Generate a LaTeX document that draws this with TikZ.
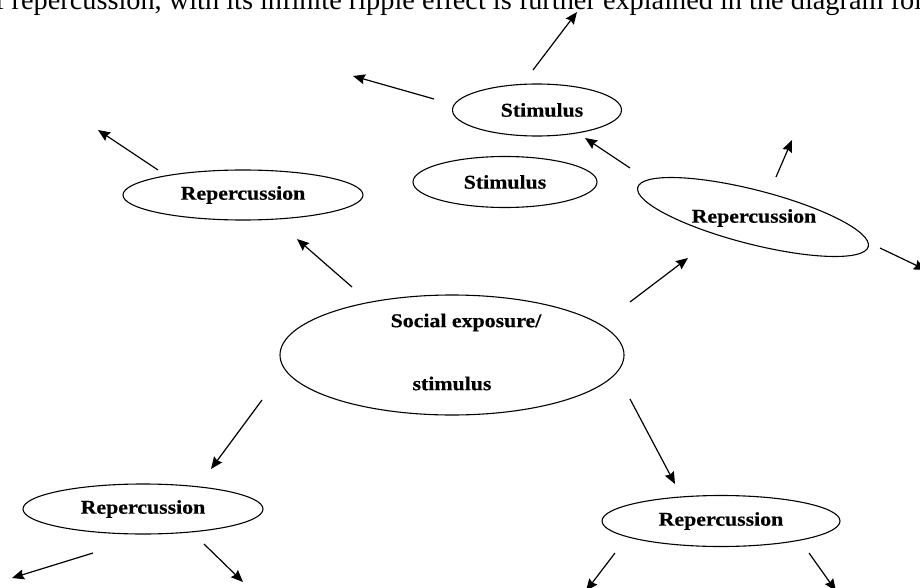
\documentclass[tikz,border=0pt]{standalone}
\usepackage{fontspec}
\setmainfont{Liberation Serif}
\newfontfamily\lblfont[FakeStretch=1.12,FakeBold=0.4]{Liberation Serif}
\usetikzlibrary{shapes.geometric,arrows.meta}
\begin{document}
\begin{tikzpicture}[x=1pt,y=-1pt,
  bubble/.style={draw, line width=1.1pt, ellipse, inner sep=0pt,
    font=\lblfont\bfseries\fontsize{19.5}{22}\selectfont},
  lbl/.style={inner sep=0pt, font=\lblfont\bfseries\fontsize{19.5}{22}\selectfont},
  arr/.style={line width=1.2pt, -{Stealth[length=12pt,width=10pt,inset=1.5pt]}}]
\useasboundingbox (0,0) rectangle (920,588);
\clip (0,0) rectangle (920,588);
\fill[white] (0,0) rectangle (920,588);
% top text line (cut)
\node[anchor=base west, inner sep=0pt, font=\fontsize{28.3}{30}\selectfont] (toptext) at (-5,9.5) {f repercussion, with its infinite ripple effect is further explained in the diagram fol};
% ellipses
\node[draw, line width=1.1pt, ellipse, inner sep=0pt, minimum width=344, minimum height=120] (soc) at (452,355) {};
\node[lbl, align=center, font=\lblfont\bfseries\fontsize{19.5}{63}\selectfont] (soct) at (452,352) {\hspace*{28pt}Social exposure/\\stimulus};
\node[bubble, minimum width=240, minimum height=50] (r1) at (243,195) {Repercussion};
\node[bubble, minimum width=169, minimum height=52] (s1) at (537,110) {\hspace*{10pt}Stimulus};
\node[bubble, minimum width=184, minimum height=51] (s2) at (505,182) {Stimulus};
\node[draw, line width=1.1pt, ellipse, rotate=-14.4, minimum width=238, minimum height=54, inner sep=0pt] (r2) at (753,217) {};
\node[lbl] (r2t) at (754,218) {Repercussion};
\node[bubble, minimum width=240, minimum height=50] (r3) at (143,509) {Repercussion};
\node[bubble, minimum width=238, minimum height=51] (r4) at (721,521) {Repercussion};
% arrow end points
\coordinate (a1) at (352,287); \coordinate (a2) at (297,239);
\coordinate (b1) at (158,170); \coordinate (b2) at (98,130);
\coordinate (c1) at (630,302); \coordinate (c2) at (688,258);
\coordinate (d1) at (630,168); \coordinate (d2) at (585,138);
\coordinate (e1) at (776,177); \coordinate (e2) at (792,140);
\coordinate (f1) at (880,248); \coordinate (f2) at (926,270);
\coordinate (g1) at (533,70);  \coordinate (g2) at (577,12);
\coordinate (h1) at (434,99);  \coordinate (h2) at (353,76);
\coordinate (i1) at (262,400); \coordinate (i2) at (211,469);
\coordinate (j1) at (630,399); \coordinate (j2) at (675,484);
\coordinate (k1) at (93,553);  \coordinate (k2) at (12,578);
\coordinate (l1) at (204,544); \coordinate (l2) at (243,582);
\coordinate (m1) at (615,553); \coordinate (m2) at (586,591);
\coordinate (n1) at (809,553); \coordinate (n2) at (836,591);
\foreach \p in {a,b,c,d,e,f,g,h,i,j,k,l,m,n}
  \draw[arr] (\p1) -- (\p2);
\end{tikzpicture}
\end{document}
